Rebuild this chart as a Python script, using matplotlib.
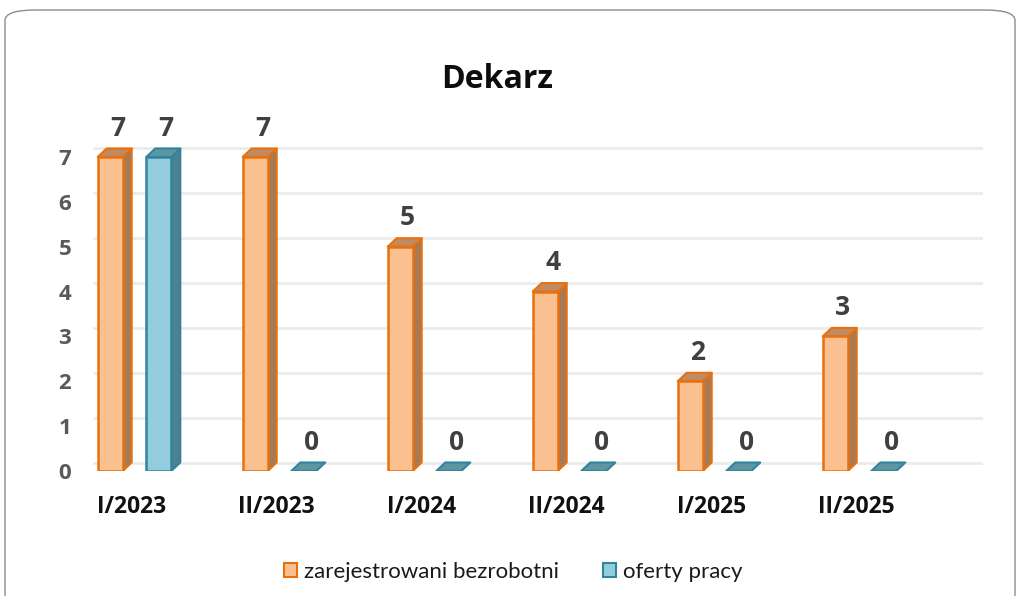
import matplotlib
matplotlib.use("Agg")
import matplotlib.pyplot as plt
from matplotlib.patches import Polygon, FancyBboxPatch, Patch
import numpy as np

categories = ["I/2023", "II/2023", "I/2024", "II/2024", "I/2025", "II/2025"]
zarejestrowani = [7, 7, 5, 4, 2, 3]
oferty = [7, 0, 0, 0, 0, 0]
series_names = ["zarejestrowani bezrobotni", "oferty pracy"]
title = "Dekarz"
yticks = [0, 1, 2, 3, 4, 5, 6, 7]

W, H = 1018, 596
fig = plt.figure(figsize=(W / 100, H / 100), dpi=100)
fig.patch.set_facecolor("white")

# rounded frame
frame = FancyBboxPatch((5 / W, -0.2), (1010) / W, (H - 10) / H + 0.2,
                       boxstyle="round,pad=0,rounding_size=0.03",
                       transform=fig.transFigure, facecolor="none",
                       edgecolor="#8c8c8c", linewidth=1.0, mutation_aspect=H / W)
fig.patches.append(frame)

ax_left_px, ax_right_px = 88, 983
y0_px = 471
px_per_unit_y = 44.86
ytop = 7.6
ax = fig.add_axes([ax_left_px / W, (H - y0_px) / H,
                   (ax_right_px - ax_left_px) / W, ytop * px_per_unit_y / H])
px_per_cat = 145.0
cat0_px = 134.5
xl = (ax_left_px - cat0_px) / px_per_cat
xr = xl + (ax_right_px - ax_left_px) / px_per_cat
ax.set_xlim(xl, xr)
ax.set_ylim(0, ytop)
for s in ax.spines.values():
    s.set_visible(False)
ax.set_facecolor("none")

dxd = 9.0 / px_per_cat
dyd = 8.5 / px_per_unit_y
bw = 25.0 / px_per_cat
off = 24.3 / px_per_cat

# gridlines on the back wall
for t in yticks:
    ax.plot([xl + 5.0 / px_per_cat, xr], [t + dyd, t + dyd], color="#ebebeb",
            linewidth=2.0, zorder=0, solid_capstyle="butt")

styles = [
    dict(face="#fac090", edge="#e8710f", side="#a57a55", top="#c08a62"),
    dict(face="#93cddd", edge="#31849b", side="#4f8092", top="#5e95a3"),
]

x = np.arange(len(categories))
for si, (vals, st) in enumerate(zip([zarejestrowani, oferty], styles)):
    xs = x + (-off if si == 0 else off)
    for xc, v in zip(xs, vals):
        l, r = xc - bw / 2, xc + bw / 2
        if v > 0:
            ax.add_patch(Polygon([(r, 0), (r + dxd, dyd), (r + dxd, v + dyd), (r, v)],
                                 closed=True, facecolor=st["side"], edgecolor=st["edge"],
                                 linewidth=1.5, joinstyle="round", zorder=2))
        ax.add_patch(Polygon([(l, v), (r, v), (r + dxd, v + dyd), (l + dxd, v + dyd)],
                             closed=True, facecolor=st["top"], edgecolor=st["edge"],
                             linewidth=1.5, joinstyle="round", zorder=2))
    if any(v > 0 for v in vals):
        ax.bar(xs, vals, width=bw, color=st["face"], edgecolor=st["edge"],
               linewidth=1.8, zorder=3)
    for xc, v in zip(xs, vals):
        ax.annotate(str(v), (xc + dxd / 2 + 3.0 / px_per_cat, v + dyd), xytext=(0, 5),
                    textcoords="offset points", ha="center", va="bottom",
                    fontsize=19, fontweight="bold", color="#404040",
                    family="Open Sans", zorder=5)

ax.set_yticks(yticks)
ax.set_yticklabels([str(t) for t in yticks], fontsize=16, fontweight="bold",
                   color="#595959", family="Open Sans")
ax.tick_params(axis="y", length=0, pad=12)
ax.set_xticks([])
for xc, c in zip(x, categories):
    ax.text(xc - 3.0 / px_per_cat, -36.0 / px_per_unit_y, c, ha="center",
            va="center", fontsize=16.5, fontweight="bold", color="#111111",
            family="Open Sans")

fig.text(497 / W, 1 - 80 / H, title, ha="center", va="center", fontsize=23,
         fontweight="bold", color="#0d0d0d", family="Open Sans")

handles = [Patch(facecolor=st["face"], edgecolor=st["edge"], linewidth=1.5)
           for st in styles]
leg = fig.legend(handles, series_names, loc="center", bbox_to_anchor=(513 / W, 1 - 572 / H),
                 ncol=2, frameon=False, prop={"family": "Lato", "size": 16},
                 handlelength=0.6, handleheight=0.6, handletextpad=0.3,
                 columnspacing=2.0, labelcolor="#1a1a1a")

fig.savefig("out.png", dpi=100)
